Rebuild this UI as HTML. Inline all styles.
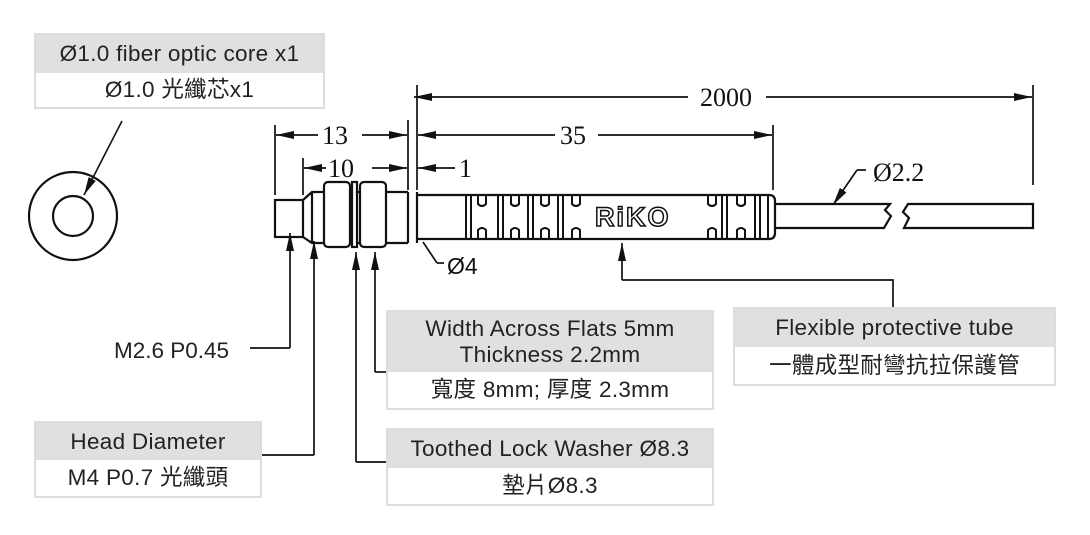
<!DOCTYPE html>
<html><head><meta charset="utf-8"><style>
body{margin:0;background:#fff;width:1090px;height:535px;overflow:hidden;font-family:"Liberation Sans","Noto Sans CJK TC",sans-serif}
.box{position:absolute;border:2px solid #ddd;background:#fff;color:#222;text-align:center;font-size:22.5px;letter-spacing:0.3px;box-sizing:border-box;white-space:nowrap}
.box .h{background:#e0e0e0}
</style></head><body>
<svg width="1090" height="535" style="position:absolute;left:0;top:0" font-family="Liberation Serif,serif">
<defs><marker id="a" markerWidth="18" markerHeight="8" refX="18" refY="4" orient="auto" markerUnits="userSpaceOnUse"><path d="M0,0L18,4L0,8z" fill="#111"/></marker></defs>
<g stroke="#111" stroke-width="2.2" fill="none">
<circle cx="73" cy="216" r="44"/><circle cx="73" cy="216" r="20"/>
<line x1="122" y1="121" x2="84" y2="195" stroke-width="1.6" marker-end="url(#a)"/>
<rect x="275" y="200" width="28" height="37"/>
<path d="M303,200 L312,192 L408,192 M303,237 L312,243 L408,243 M312,192 V243"/>
<rect x="324" y="182" width="26" height="65" rx="4" fill="#fff"/>
<rect x="352" y="182" width="5" height="65" fill="#fff"/>
<rect x="360" y="182" width="26" height="65" rx="4" fill="#fff"/>
<line x1="408" y1="192" x2="408" y2="243"/><line x1="417" y1="192" x2="417" y2="243"/>
<path d="M417,195 H769 Q775,195 775,201 V233 Q775,239 769,239 H417"/>
<g stroke-width="2">
<path d="M466,195V239M471,195V239M498,195V239M503,195V239M528,195V239M533,195V239M558,195V239M563,195V239M722,195V239M727,195V239M755,195V239M760,195V239M768,195V239"/>
<path d="M478,195v9q4,4 8,0v-9M478,239v-9q4,-4 8,0v9M511,195v9q4,4 8,0v-9M511,239v-9q4,-4 8,0v9M541,195v9q4,4 8,0v-9M541,239v-9q4,-4 8,0v9M572,195v9q4,4 8,0v-9M572,239v-9q4,-4 8,0v9M708,195v9q4,4 8,0v-9M708,239v-9q4,-4 8,0v9M737,195v9q4,4 8,0v-9M737,239v-9q4,-4 8,0v9"/>
</g>
<path d="M775,204 H890 L885,210 L891,216 L884,228 H775"/>
<path d="M908,204 H1033 V228 H904 L909,218 L903,212 Z"/>
<g stroke-width="1.7">
<path d="M275,125V195M303,158V195M408,120V190M417,85V190M773,125V190M1033,85V185"/>
<line x1="318" y1="135" x2="276" y2="135" marker-end="url(#a)"/><line x1="362" y1="135" x2="407" y2="135" marker-end="url(#a)"/>
<line x1="326" y1="168" x2="304" y2="168" marker-end="url(#a)"/><line x1="372" y1="168" x2="407" y2="168" marker-end="url(#a)"/>
<line x1="455" y1="168" x2="418" y2="168" marker-end="url(#a)"/>
<line x1="555" y1="135" x2="418" y2="135" marker-end="url(#a)"/><line x1="598" y1="135" x2="772" y2="135" marker-end="url(#a)"/>
<line x1="688" y1="97" x2="414" y2="97" marker-end="url(#a)"/><line x1="766" y1="97" x2="1032" y2="97" marker-end="url(#a)"/>
<path d="M437,263 L423,242"/><path d="M437,263H444"/>
<line x1="866" y1="170" x2="857" y2="170"/><line x1="857" y1="170" x2="833" y2="205" marker-end="url(#a)"/>
<line x1="290" y1="348" x2="290" y2="233" marker-end="url(#a)"/><path d="M290,348H250"/>
<line x1="314" y1="455" x2="314" y2="241" marker-end="url(#a)"/><path d="M314,455H262"/>
<line x1="356" y1="462" x2="356" y2="252" marker-end="url(#a)"/><path d="M356,462H386"/>
<line x1="375" y1="372" x2="375" y2="252" marker-end="url(#a)"/><path d="M375,372H386"/>
<line x1="622" y1="280" x2="622" y2="243" marker-end="url(#a)"/><path d="M622,280H893V307"/>
</g></g>
<g font-size="26" fill="#111">
<text x="322" y="144">13</text><text x="328" y="177">10</text><text x="459" y="177">1</text>
<text x="560" y="144">35</text><text x="700" y="106">2000</text><text x="873" y="181">Ø2.2</text>
</g>
<text x="447" y="274" font-family="Liberation Sans,sans-serif" font-size="23" fill="#111">Ø4</text>
<text x="595" y="226" font-family="Liberation Sans,sans-serif" font-weight="bold" font-size="27" fill="#fff" stroke="#111" stroke-width="1.5" letter-spacing="2">RiKO</text>
<text x="114" y="358" font-family="Liberation Sans,sans-serif" font-size="22.5" fill="#222">M2.6 P0.45</text>
</svg>
<div class="box" style="left:34px;top:33px;width:291px;height:76px"><div class="h" style="height:38px;line-height:38px">Ø1.0 fiber optic core x1</div><div style="line-height:34px">Ø1.0 光纖芯x1</div></div>
<div class="box" style="left:34px;top:421px;width:228px;height:77px"><div class="h" style="height:37px;line-height:37px">Head Diameter</div><div style="line-height:36px">M4 P0.7 光纖頭</div></div>
<div class="box" style="left:386px;top:310px;width:328px;height:100px"><div class="h" style="height:60px;line-height:26px;padding-top:4px;box-sizing:border-box">Width Across Flats 5mm<br>Thickness 2.2mm</div><div style="line-height:36px">寬度 8mm; 厚度 2.3mm</div></div>
<div class="box" style="left:386px;top:428px;width:328px;height:78px"><div class="h" style="height:38px;line-height:38px">Toothed Lock Washer Ø8.3</div><div style="line-height:36px">墊片Ø8.3</div></div>
<div class="box" style="left:733px;top:307px;width:323px;height:79px"><div class="h" style="height:38px;line-height:38px">Flexible protective tube</div><div style="line-height:37px">一體成型耐彎抗拉保護管</div></div>
</body></html>
